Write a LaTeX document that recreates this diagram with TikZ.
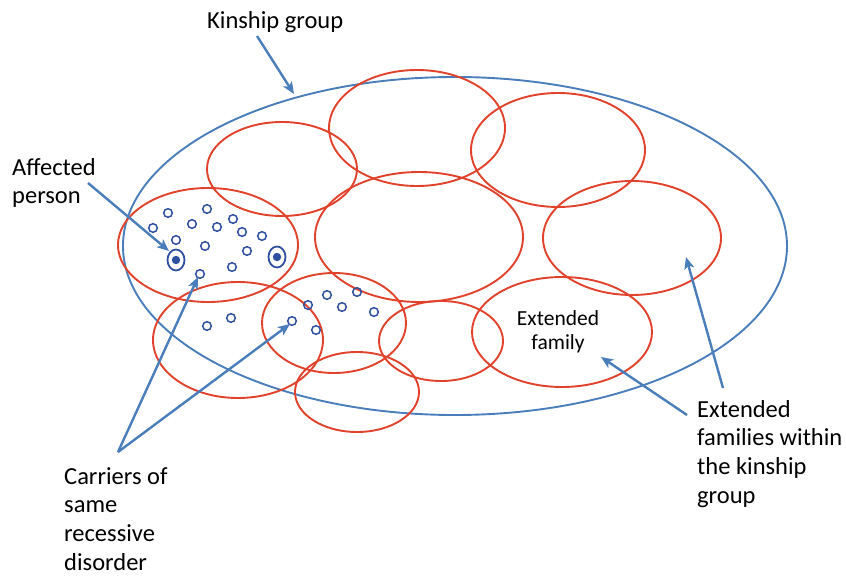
\documentclass[tikz,border=0pt]{standalone}
\usepackage{fontspec}
\setmainfont{Carlito}
\usetikzlibrary{arrows.meta}
\definecolor{fam}{RGB}{224,66,44}
\definecolor{kin}{RGB}{74,126,187}
\definecolor{dot}{RGB}{47,80,160}
\begin{document}
\begin{tikzpicture}[x=1pt,y=-1pt,
  famline/.style={draw=fam,line width=1.9pt},
  kinline/.style={draw=kin,line width=1.9pt},
  pointer/.style={draw=kin,line width=2.4pt,-{Stealth[length=12pt,width=10pt,inset=3pt]}},
  carrier/.style={draw=dot,line width=1.5pt},
  lbl/.style={font=\fontsize{24.5}{28.7}\selectfont,align=left,inner sep=0pt},
  small/.style={font=\fontsize{21.5}{24}\selectfont,align=center,inner sep=0pt}]
\useasboundingbox (0,0) rectangle (846,577);
% kinship group
\draw[kinline] (455,246) ellipse [x radius=332pt, y radius=169pt];
% extended families
\draw[famline] (417,128) ellipse [x radius=88pt, y radius=58pt];
\draw[famline] (282,169) ellipse [x radius=75pt, y radius=47pt];
\draw[famline] (558,150) ellipse [x radius=87pt, y radius=57pt];
\draw[famline] (419,237) ellipse [x radius=104pt, y radius=65pt];
\draw[famline] (632,238) ellipse [x radius=89pt, y radius=57pt];
\draw[famline] (208,245) ellipse [x radius=90pt, y radius=57pt];
\draw[famline] (238,340) ellipse [x radius=85pt, y radius=58pt];
\draw[famline] (334,323) ellipse [x radius=72pt, y radius=50pt];
\draw[famline] (357,392) ellipse [x radius=62pt, y radius=40pt];
\draw[famline] (441,341) ellipse [x radius=62pt, y radius=40pt];
\draw[famline] (562,332) ellipse [x radius=90pt, y radius=55pt];
% carriers
\foreach \p in {(168,213),(207,209),(153,228),(192,224),(217,227),(233,219),
  (242,232),(262,236),(176,240),(205,246),(247,251),(232,267),(200,274),
  (207,326),(231,318),(327,295),(357,292),(308,305),(342,307),(374,312),
  (292,321),(316,330)}
  \draw[carrier] \p circle [radius=4.3pt];
% affected persons
\draw[carrier,line width=1.8pt] (176,260) ellipse [x radius=8.5pt, y radius=10.5pt];
\fill[dot] (176,260) circle [radius=4.2pt];
\draw[carrier,line width=1.8pt] (277,257) ellipse [x radius=8.5pt, y radius=10.5pt];
\fill[dot] (277,257) circle [radius=4.2pt];
% labels
\node[lbl,anchor=base west] (kinlbl) at (207,29) {Kinship group};
\node[lbl,anchor=north west] (afflbl) at (12,158) {Affected\\person};
\node[lbl,anchor=north west] (carlbl) at (64,467) {Carriers of\\same\\recessive\\disorder};
\node[small,anchor=north] (famlbl) at (558,310) {Extended\\family};
\node[lbl,anchor=north west] (efwlbl) at (697,400) {Extended\\families within\\the kinship\\group};
% pointer coordinates
\coordinate (k0) at (257,36);   \coordinate (k1) at (294,94);
\coordinate (a0) at (88,183);   \coordinate (a1) at (169,251);
\coordinate (c0) at (118,452);  \coordinate (c1) at (198,277); \coordinate (c2) at (290,324);
\coordinate (f0) at (687,415);  \coordinate (f1) at (601,357);
\coordinate (w0) at (723,388);  \coordinate (w1) at (686,257);
\draw[pointer] (k0) -- (k1);
\draw[pointer] (a0) -- (a1);
\draw[pointer] (c0) -- (c1);
\draw[pointer] (c0) -- (c2);
\draw[pointer] (f0) -- (f1);
\draw[pointer] (w0) -- (w1);
\end{tikzpicture}
\end{document}
